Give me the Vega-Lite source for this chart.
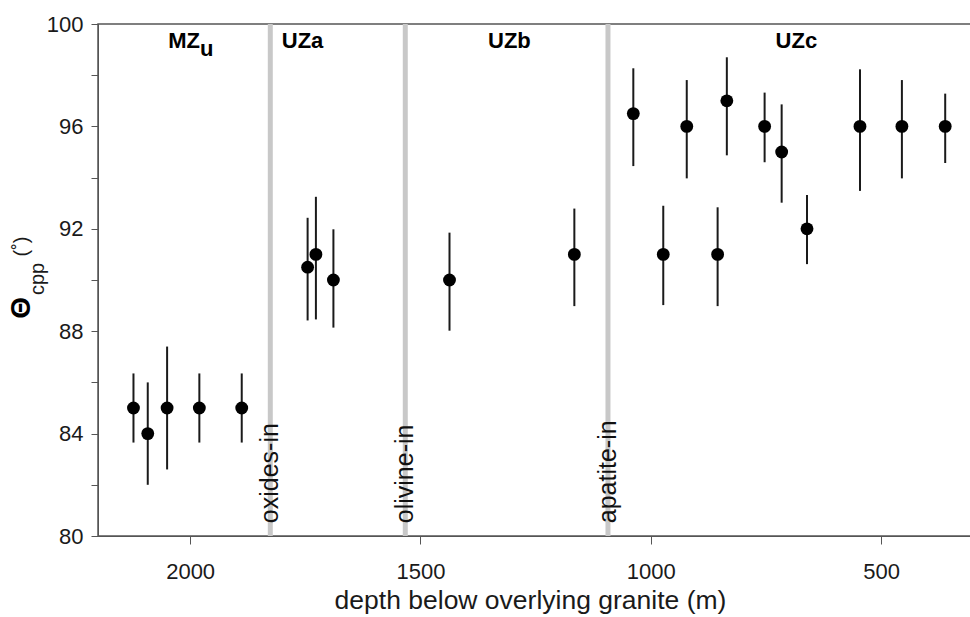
{
  "$schema": "https://vega.github.io/schema/vega-lite/v6.json",
  "autosize": {"type": "none"},
  "width": 873,
  "height": 512,
  "padding": {"left": 98, "top": 24, "right": 0, "bottom": 81},
  "config": {
    "font": "Liberation Sans",
    "view": {"stroke": "#555555", "strokeWidth": 1.5},
    "axis": {"grid": false, "domainColor": "#555555", "tickColor": "#555555", "labelColor": "#1a1a1a", "titleColor": "#1a1a1a", "labelFont": "Liberation Sans", "titleFont": "Liberation Sans", "titleFontWeight": "normal"}
  },
  "datasets": {
    "points": [
      {"depth": 2123, "theta": 85, "lo": 83.65, "hi": 86.35},
      {"depth": 2092, "theta": 84, "lo": 82.0, "hi": 86.0},
      {"depth": 2050, "theta": 85, "lo": 82.6, "hi": 87.4},
      {"depth": 1980, "theta": 85, "lo": 83.65, "hi": 86.35},
      {"depth": 1888, "theta": 85, "lo": 83.65, "hi": 86.35},
      {"depth": 1745, "theta": 90.5, "lo": 88.42, "hi": 92.43},
      {"depth": 1727, "theta": 91, "lo": 88.46, "hi": 93.25},
      {"depth": 1689, "theta": 90, "lo": 88.14, "hi": 91.98},
      {"depth": 1437, "theta": 90, "lo": 88.02, "hi": 91.85},
      {"depth": 1166, "theta": 91, "lo": 88.98, "hi": 92.79},
      {"depth": 1038, "theta": 96.5, "lo": 94.45, "hi": 98.27},
      {"depth": 973, "theta": 91, "lo": 89.02, "hi": 92.9},
      {"depth": 922, "theta": 96, "lo": 93.97, "hi": 97.81},
      {"depth": 855, "theta": 91, "lo": 88.98, "hi": 92.84},
      {"depth": 835, "theta": 97, "lo": 94.87, "hi": 98.7},
      {"depth": 753, "theta": 96, "lo": 94.6, "hi": 97.32},
      {"depth": 716, "theta": 95, "lo": 93.02, "hi": 96.86},
      {"depth": 661, "theta": 92, "lo": 90.62, "hi": 93.32},
      {"depth": 546, "theta": 96, "lo": 93.48, "hi": 98.23},
      {"depth": 455, "theta": 96, "lo": 93.97, "hi": 97.81},
      {"depth": 361, "theta": 96, "lo": 94.57, "hi": 97.28}
    ],
    "boundaries": [
      {"depth": 1826, "label": "oxides-in"},
      {"depth": 1533, "label": "olivine-in"},
      {"depth": 1093, "label": "apatite-in"}
    ],
    "zones": [
      {"depth": 2013, "label": "MZ"},
      {"depth": 1756, "label": "UZa"},
      {"depth": 1307, "label": "UZb"},
      {"depth": 684, "label": "UZc"}
    ],
    "one": [{}]
  },
  "layer": [
    {
      "data": {"name": "boundaries"},
      "mark": {"type": "rule", "color": "#c8c8c8", "strokeWidth": 5},
      "encoding": {
        "x": {
          "field": "depth", "type": "quantitative",
          "scale": {"domain": [2200, 305], "nice": false, "zero": false},
          "axis": {
            "values": [2000, 1500, 1000, 500],
            "format": "d",
            "tickSize": 8,
            "labelFontSize": 22,
            "labelPadding": 17,
            "title": "depth below overlying granite (m)",
            "titleFontSize": 26.5,
            "titleBaseline": "alphabetic",
            "titleY": 72,
            "titleX": 432
          }
        }
      }
    },
    {
      "data": {"name": "boundaries"},
      "mark": {"type": "text", "angle": 270, "align": "left", "baseline": "middle", "fontSize": 25, "color": "#111111"},
      "encoding": {
        "x": {"field": "depth", "type": "quantitative"},
        "y": {"datum": 80.5, "type": "quantitative"},
        "text": {"field": "label"}
      }
    },
    {
      "data": {"name": "points"},
      "mark": {"type": "rule", "color": "#1a1a1a", "strokeWidth": 2},
      "encoding": {
        "x": {"field": "depth", "type": "quantitative"},
        "y": {
          "field": "lo", "type": "quantitative",
          "scale": {"domain": [80, 100], "nice": false, "zero": false},
          "axis": {
            "values": [80, 82, 84, 86, 88, 90, 92, 94, 96, 98, 100],
            "labelExpr": "datum.value % 4 === 0 ? datum.label : ''",
            "tickSize": 7,
            "labelFontSize": 22,
            "labelPadding": 8,
            "title": null
          }
        },
        "y2": {"field": "hi"}
      }
    },
    {
      "data": {"name": "points"},
      "mark": {"type": "point", "shape": "circle", "filled": true, "color": "#000000", "opacity": 1, "size": 165},
      "encoding": {
        "x": {"field": "depth", "type": "quantitative"},
        "y": {"field": "theta", "type": "quantitative"}
      }
    },
    {
      "data": {"name": "zones"},
      "mark": {"type": "text", "fontSize": 22, "fontWeight": "bold", "baseline": "alphabetic", "align": "center", "color": "#000000"},
      "encoding": {
        "x": {"field": "depth", "type": "quantitative"},
        "y": {"datum": 99.06, "type": "quantitative"},
        "text": {"field": "label"}
      }
    },
    {
      "data": {"name": "one"},
      "mark": {"type": "text", "fontSize": 22, "fontWeight": "bold", "baseline": "alphabetic", "align": "center", "color": "#000000"},
      "encoding": {
        "x": {"datum": 1964, "type": "quantitative"},
        "y": {"datum": 98.75, "type": "quantitative"},
        "text": {"value": "u"}
      }
    },
    {
      "data": {"name": "one"},
      "mark": {"type": "text", "fontSize": 28, "fontWeight": "bold", "baseline": "middle", "align": "center", "angle": 270, "color": "#000000"},
      "encoding": {
        "x": {"datum": 2365, "type": "quantitative"},
        "y": {"datum": 88.91, "type": "quantitative"},
        "text": {"value": "Θ"}
      }
    },
    {
      "data": {"name": "one"},
      "mark": {"type": "text", "fontSize": 20, "baseline": "middle", "align": "center", "angle": 270, "color": "#1a1a1a"},
      "encoding": {
        "x": {"datum": 2331, "type": "quantitative"},
        "y": {"datum": 90.04, "type": "quantitative"},
        "text": {"value": "cpp"}
      }
    },
    {
      "data": {"name": "one"},
      "mark": {"type": "text", "fontSize": 20, "baseline": "middle", "align": "center", "angle": 270, "color": "#1a1a1a"},
      "encoding": {
        "x": {"datum": 2365, "type": "quantitative"},
        "y": {"datum": 91.31, "type": "quantitative"},
        "text": {"value": "(˚)"}
      }
    }
  ]
}
